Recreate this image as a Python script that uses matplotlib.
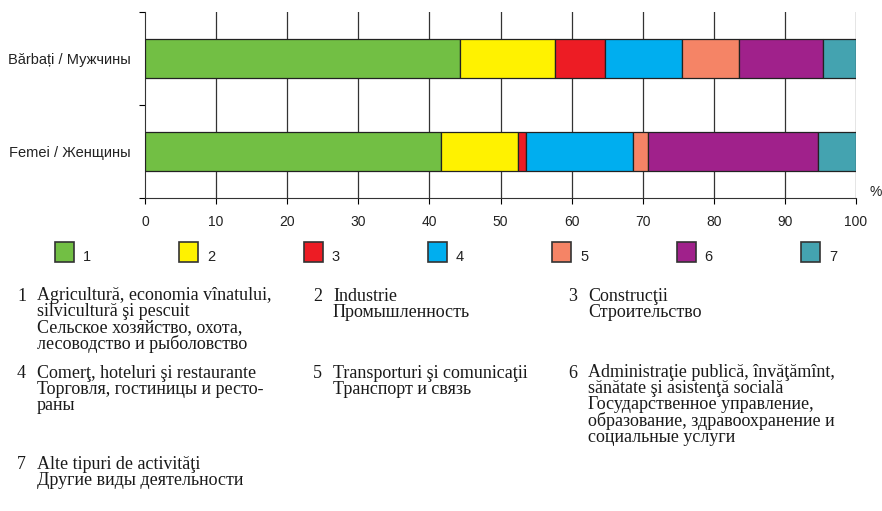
import matplotlib.pyplot as plt
from matplotlib.patches import Rectangle

# shares of employed population by activity, %
groups = ['Bărbați / Мужчины', 'Femei / Женщины']
men = [44.3, 13.4, 7.0, 10.8, 8.0, 11.9, 4.6]
women = [41.7, 10.8, 1.1, 15.1, 2.1, 23.8, 5.4]
codes = ['1', '2', '3', '4', '5', '6', '7']
colors = ['#72BF44', '#FFF200', '#ED1C24', '#00AEEF', '#F58466', '#A0218B', '#44A3B0']
xticks = list(range(0, 101, 10))

notes = [
    ('1', ['Agricultură, economia vînatului,', 'silvicultură şi pescuit',
           'Сельское хозяйство, охота,', 'лесоводство и рыболовство']),
    ('2', ['Industrie', 'Промышленность']),
    ('3', ['Construcţii', 'Строительство']),
    ('4', ['Comerţ, hoteluri şi restaurante', 'Торговля, гостиницы и ресто-', 'раны']),
    ('5', ['Transporturi şi comunicaţii', 'Транспорт и связь']),
    ('6', ['Administraţie publică, învăţămînt,', 'sănătate şi asistenţă socială',
           'Государственное управление,', 'образование, здравоохранение и',
           'социальные услуги']),
    ('7', ['Alte tipuri de activităţi', 'Другие виды деятельности']),
]

W, H = 882, 511
fig = plt.figure(figsize=(W / 100, H / 100), dpi=100)
ax = fig.add_axes([145 / W, 1 - 198 / H, 711 / W, 186 / H])

data = [men, women]
for i, vals in enumerate(data):
    left = 0
    for j, v in enumerate(vals):
        ax.barh(i, v, left=left, height=0.42, color=colors[j],
                edgecolor='#222222', linewidth=0.9, zorder=3)
        left += v

ax.set_xlim(0, 100)
ax.set_ylim(1.5, -0.5)
ax.set_xticks(xticks)
ax.set_xticklabels([str(t) for t in xticks], fontsize=10, family='Liberation Sans',
                   color='#222222')
ax.set_yticks([-0.5, 0.5, 1.5])
ax.set_yticklabels([])
ax.set_yticks([0, 1], minor=True)
ax.set_yticklabels(groups, minor=True, fontsize=10.5, family='Liberation Sans',
                   color='#222222')
ax.tick_params(axis='y', which='minor', length=0, pad=10)
ax.tick_params(axis='y', which='major', length=4, width=0.8)
ax.tick_params(axis='x', length=4, width=0.8, pad=8)
for t in xticks[1:]:
    ax.axvline(t, color='#333333', lw=0.9, zorder=1)
ax.spines['top'].set_visible(False)
ax.spines['right'].set_visible(False)
ax.spines['left'].set_color('#333333')
ax.spines['bottom'].set_color('#333333')
fig.text(876 / W, 1 - 192 / H, '%', fontsize=10, family='Liberation Sans',
         ha='center', va='center', color='#222222')

# legend row
for k, c in enumerate(codes):
    x0 = 55 + k * 124.3
    fig.patches.append(Rectangle((x0 / W, 1 - 262 / H), 19 / W, 20 / H,
                                 transform=fig.transFigure, facecolor=colors[k],
                                 edgecolor='#333333', linewidth=1.2))
    fig.text((x0 + 28) / W, 1 - 257 / H, c, fontsize=10.5, family='Liberation Sans',
             ha='left', va='center', color='#222222')

# explanation block; va='baseline' pins the last line, so shift by the line count
col_x = [17, 313, 568]
row_y = [301, 378, 469]
step = 16
for k, (num, lines) in enumerate(notes):
    cx = col_x[k % 3]
    cy = row_y[k // 3]
    fig.text(cx / W, 1 - cy / H, num, fontsize=13, family='Liberation Serif',
             ha='left', va='baseline', color='#1a1a1a')
    last = cy + (len(lines) - 1) * step
    fig.text((cx + 20) / W, 1 - last / H, '\n'.join(lines), fontsize=13,
             family='Liberation Serif', ha='left', va='baseline',
             linespacing=0.925, color='#1a1a1a')

fig.savefig('out.png', dpi=100)
